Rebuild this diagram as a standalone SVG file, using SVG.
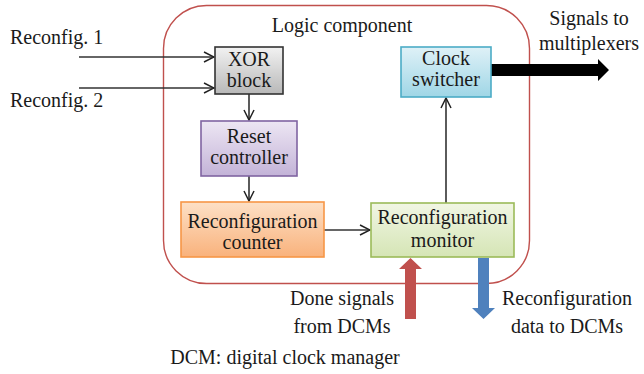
<svg xmlns="http://www.w3.org/2000/svg" width="644" height="374" viewBox="0 0 644 374" font-family="'Liberation Serif', 'DejaVu Serif', serif">
  <style>
    text { font-family: 'Liberation Serif', 'DejaVu Serif', serif; font-size: 20px; fill: #1a1a1a; text-anchor: middle; }
    .line { stroke: #333; stroke-width: 1.6; fill: none; }
    .box { stroke-width: 1.6; }
  </style>
  <defs>
    <marker id="chev" viewBox="0 0 12 12" refX="11" refY="6" markerWidth="12" markerHeight="12" markerUnits="userSpaceOnUse" orient="auto">
      <path d="M1,1 L11,6 L1,11" fill="none" stroke="#222" stroke-width="1.5"/>
    </marker>
    <linearGradient id="gGray" x1="0" y1="0" x2="0" y2="1">
      <stop offset="0" stop-color="#f2f2f2"/><stop offset="1" stop-color="#b8b8b8"/>
    </linearGradient>
    <linearGradient id="gPurple" x1="0" y1="0" x2="0" y2="1">
      <stop offset="0" stop-color="#ede6f3"/><stop offset="1" stop-color="#c3b3d8"/>
    </linearGradient>
    <linearGradient id="gOrange" x1="0" y1="0" x2="0" y2="1">
      <stop offset="0" stop-color="#fde0c6"/><stop offset="1" stop-color="#f9b27c"/>
    </linearGradient>
    <linearGradient id="gGreen" x1="0" y1="0" x2="0" y2="1">
      <stop offset="0" stop-color="#f1f6e4"/><stop offset="1" stop-color="#d5e5b5"/>
    </linearGradient>
    <linearGradient id="gBlue" x1="0" y1="0" x2="0" y2="1">
      <stop offset="0" stop-color="#dff1f7"/><stop offset="1" stop-color="#9fd6e6"/>
    </linearGradient>
  </defs>

  <rect width="644" height="374" fill="#ffffff"/>

  <!-- logic component boundary -->
  <g id="logic-component">
    <rect x="163.5" y="5.5" width="366" height="278" rx="43" ry="43" fill="none" stroke="#c0504d" stroke-width="1.4"/>
    <text x="342" y="32">Logic component</text>
  </g>

  <!-- connectors -->
  <g id="connectors">
    <line class="line" x1="79" y1="57" x2="214" y2="57" marker-end="url(#chev)"/>
    <line class="line" x1="79" y1="88" x2="214" y2="88" marker-end="url(#chev)"/>
    <line class="line" x1="249" y1="94" x2="249" y2="120" marker-end="url(#chev)"/>
    <line class="line" x1="249" y1="176" x2="249" y2="201" marker-end="url(#chev)"/>
    <line class="line" x1="324" y1="230" x2="370" y2="230" marker-end="url(#chev)"/>
    <line class="line" x1="446" y1="203" x2="446" y2="98" marker-end="url(#chev)"/>
    <!-- output bus to multiplexers -->
    <polygon points="491,64 598,64 598,59 609,70 598,81 598,76 491,76" fill="#000"/>
    <!-- done signals in -->
    <polygon points="405,319 405,269 399,269 410.5,258 422,269 416,269 416,319" fill="#c0504d"/>
    <!-- reconfiguration data out -->
    <polygon points="478,258 489,258 489,308 495,308 483.5,319 472,308 478,308" fill="#4f81bd"/>
  </g>

  <g id="xor-block">
    <rect class="box" x="215" y="47" width="68" height="47" fill="url(#gGray)" stroke="#333"/>
    <text x="249" y="66">XOR</text>
    <text x="249" y="87">block</text>
  </g>

  <g id="reset-controller">
    <rect class="box" x="201" y="121" width="96" height="55" fill="url(#gPurple)" stroke="#8064a2"/>
    <text x="249" y="143">Reset</text>
    <text x="249" y="164">controller</text>
  </g>

  <g id="reconfiguration-counter">
    <rect class="box" x="181" y="202" width="143" height="55" fill="url(#gOrange)" stroke="#f79646"/>
    <text x="252.5" y="228">Reconfiguration</text>
    <text x="252.5" y="249">counter</text>
  </g>

  <g id="reconfiguration-monitor">
    <rect class="box" x="371" y="203" width="143" height="54" fill="url(#gGreen)" stroke="#9bbb59"/>
    <text x="442.5" y="224">Reconfiguration</text>
    <text x="442.5" y="247">monitor</text>
  </g>

  <g id="clock-switcher">
    <rect class="box" x="401" y="47" width="90" height="50" fill="url(#gBlue)" stroke="#4bacc6"/>
    <text x="446" y="65">Clock</text>
    <text x="446" y="86">switcher</text>
  </g>

  <!-- external labels -->
  <g id="labels">
    <text x="10" y="44" style="text-anchor:start">Reconfig. 1</text>
    <text x="10" y="107" style="text-anchor:start">Reconfig. 2</text>
    <text x="589" y="25">Signals to</text>
    <text x="589" y="50">multiplexers</text>
    <text x="342" y="305">Done signals</text>
    <text x="342" y="333">from DCMs</text>
    <text x="567" y="305">Reconfiguration</text>
    <text x="567" y="333">data to DCMs</text>
    <text x="285" y="364">DCM: digital clock manager</text>
  </g>
</svg>
